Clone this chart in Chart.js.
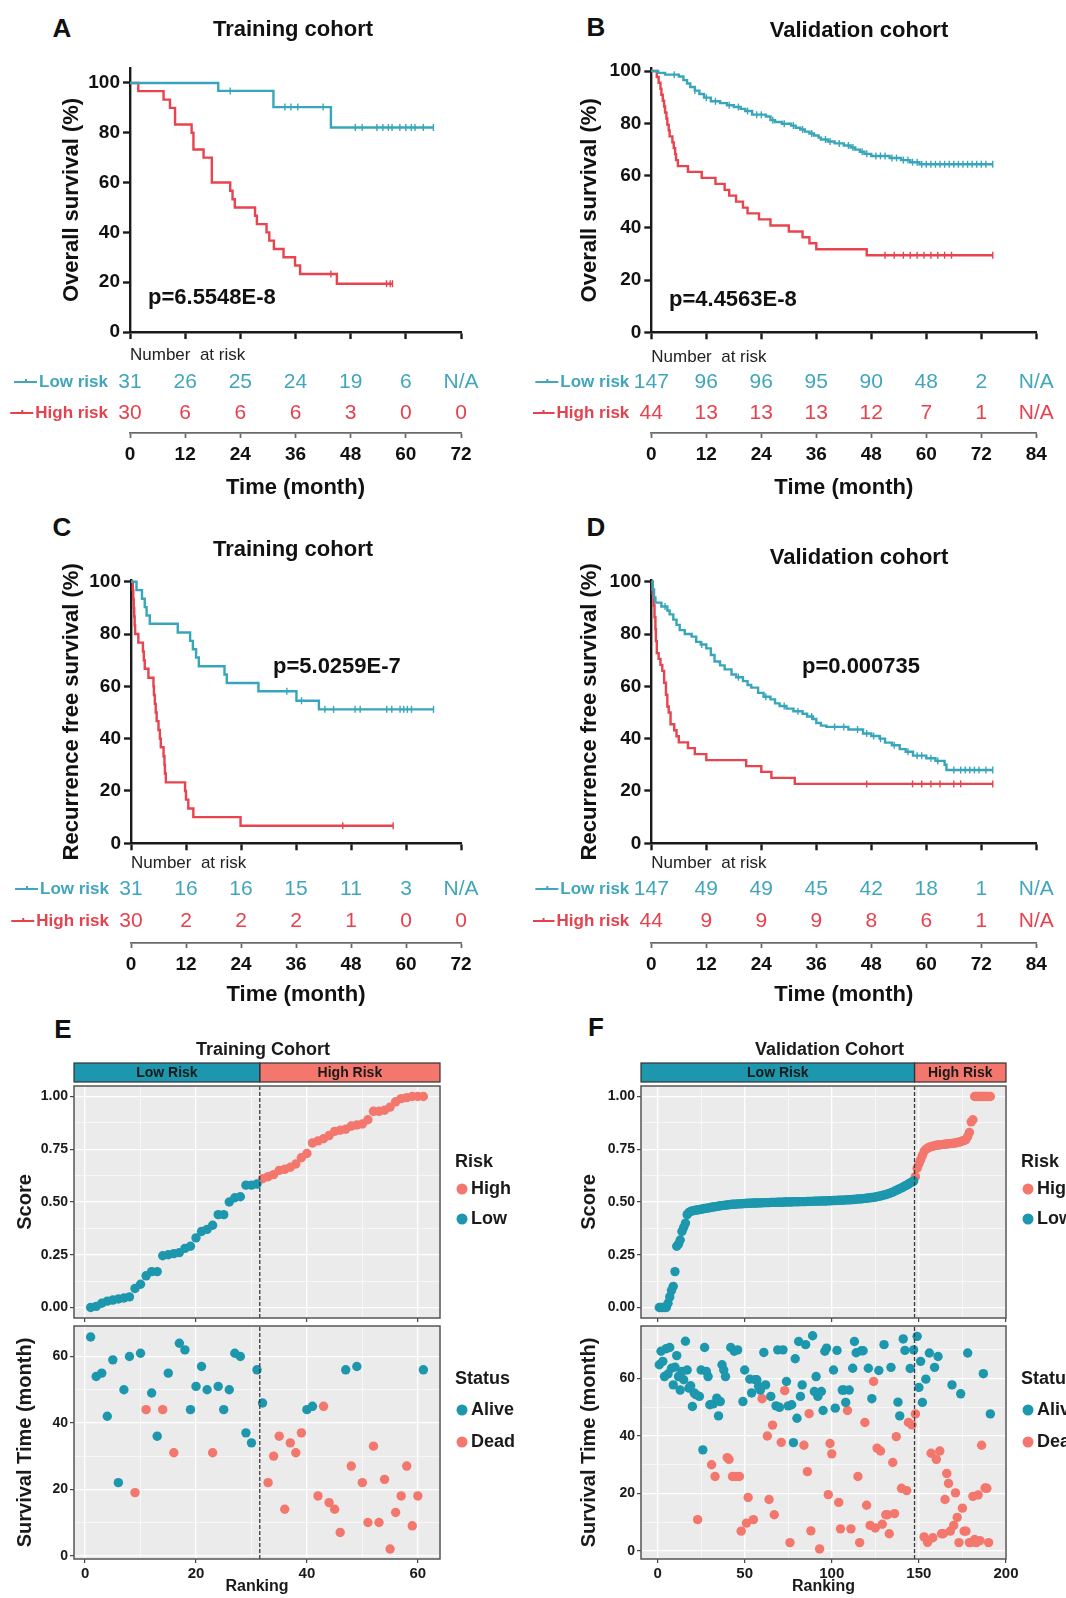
<!DOCTYPE html>
<html>
<head>
<meta charset="utf-8">
<script src="https://cdn.jsdelivr.net/npm/chart.js@4.4.1/dist/chart.umd.min.js"></script>
<style>
  body { margin: 0; background: #fff; }
  #wrap { position: relative; width: 1066px; height: 1598px; overflow: hidden; }
  canvas { position: absolute; }
  .lbl { position: absolute; font: bold 26px 'Liberation Sans', Arial, sans-serif; color: #111; transform: translate(-50%, -50%); }
</style>
</head>
<body>
<div id="wrap">
  <div class="lbl" style="left:62px;top:28px">A</div>
  <div class="lbl" style="left:596px;top:27px">B</div>
  <div class="lbl" style="left:62px;top:527px">C</div>
  <div class="lbl" style="left:596px;top:527px">D</div>
  <div class="lbl" style="left:63px;top:1029px">E</div>
  <div class="lbl" style="left:596px;top:1027px">F</div>
  <canvas id="kmA"></canvas>
  <canvas id="kmB"></canvas>
  <canvas id="kmC"></canvas>
  <canvas id="kmD"></canvas>
  <canvas id="scoreE"></canvas>
  <canvas id="timeE"></canvas>
  <canvas id="scoreF"></canvas>
  <canvas id="timeF"></canvas>
</div>
<script>
const FONT = "'Liberation Sans', Arial, sans-serif";
const TEAL = '#38a6ba', RED = '#e8434e';
const TEAL_TXT = '#41a6bd', RED_TXT = '#e6424e';
const GG_LOW = '#1c97ad', GG_HIGH = '#f3776c';

// ---------- Kaplan-Meier curves: [time (month), survival %] ----------
const osTrainLow = [[0,100],[19.2,96.8],[31.2,90.3],[43.7,82.1],[66,82.1]];
const osTrainLowCens = [21.8,33.7,35,36.5,42,49,50.5,53.7,55,56.2,57,58.7,60,61.2,62,63.8,66];
const osTrainHigh = [[0,100],[1.8,96.7],[7.3,93.3],[8.7,90],[9.8,83.3],[13.4,80],[13.8,73.3],[16,70],[17.8,60],
  [21.8,56.7],[22.3,53.3],[22.8,50],[27.2,46.7],[27.6,43.3],[29.7,40],[30.3,36.7],[31.3,33.3],[33.4,30],
  [35.9,26.7],[37,23.3],[45,19.4],[57.1,19.4]];
const osTrainHighCens = [43.7,55.8,56.6,57.1];

const osValLow = [[0,100],[1.5,99.3],[3,98.6],[6,97.9],[7,96.5],[7.8,95.2],[8.5,93.9],[9.5,92.5],[10.5,91.2],
  [11.5,89.8],[13,88.4],[15,87.7],[16.5,86.9],[18,86.2],[19.5,85.5],[20.5,84.7],[22,83.3],[25,82.6],[26,81.2],
  [27,80.5],[28.5,79.8],[30.5,79.1],[31.5,78.3],[32.5,77.6],[33.5,76.8],[34.5,76.1],[35.5,75.3],[36.5,74.5],
  [37,73.8],[38.5,73],[40,72.3],[42,71.5],[43.5,70.7],[44.5,69.9],[45.5,69.1],[46.5,68.3],[48,67.5],[52,66.7],
  [54.5,65.9],[56.5,65.1],[58.5,64.3],[74.5,64.3]];
const osValLowCens = [5,9.5,12,14,17,19,21,23,24,26.5,29,31,33,35,38,39,41,43,44,46,47,49,50,51,52.5,53.5,55,56,
  57,58,59,60,61,62,63,64,65,66,67,68,69,70,71,72,73,74.5];
const osValHigh = [[0,100],[1.2,97.7],[1.6,95.5],[2,93.2],[2.2,90.9],[2.5,88.6],[2.8,86.4],[3,84.1],[3.3,81.8],
  [3.5,79.5],[3.8,77.3],[4,75],[4.6,72.7],[4.9,70.5],[5.2,68.2],[5.4,65.9],[5.8,63.6],[8,61.4],[11,59.1],[14,56.8],
  [16,54.5],[17,52.3],[18.5,50],[20,47.7],[21,45.5],[23.5,43.2],[26,40.9],[30,38.6],[33,36.4],[34.5,34.1],
  [36,31.8],[47,29.5],[74.5,29.5]];
const osValHighCens = [51,53,55,56.5,58,59.5,61,62.5,64,65.5,74.5];

const rfsTrainLow = [[0,100],[1.2,96.8],[2.4,93.5],[3,90.3],[3.4,87.1],[4.1,83.9],[10.2,80.6],[12.9,77.4],
  [13.5,74.2],[14.2,71],[14.8,67.7],[20.4,64.5],[20.9,61.3],[27.8,58.1],[36.1,54.5],[41,51.2],[66,51.2]];
const rfsTrainLowCens = [34,37.2,42.3,44.2,48.9,50,55.8,56.9,58.7,59.5,60.3,61.2,66];
const rfsTrainHigh = [[0,100],[0.4,96.7],[0.5,93.3],[0.6,90],[0.7,86.7],[0.8,83.3],[0.9,80],[1.6,76.7],[2.6,73.3],
  [2.8,70],[3,66.7],[3.8,63.3],[4.9,60],[5,56.7],[5.2,53.3],[5.4,50],[5.6,46.7],[6,43.3],[6.3,40],[6.5,36.7],
  [7.1,33.3],[7.3,30],[7.4,26.7],[7.6,23.3],[11.8,20],[12,16.7],[12.5,13.3],[13.6,10],[23.9,6.7],[57.2,6.7]];
const rfsTrainHighCens = [46.2,57.2];

const rfsValLow = [[0,100],[0.3,97],[0.6,94],[0.9,92],[2.2,90.5],[3.5,89],[4,87.5],[4.8,85.5],[5.5,83.5],[6.2,81.5],
  [7.3,80],[8.8,79],[9.8,77],[10.8,76],[12,74.5],[13,72],[13.8,69.5],[15,68],[16,66.5],[17.5,64.5],[18.5,63.5],
  [20,62],[21,60.5],[21.8,59.5],[23.3,57.5],[24.5,56],[26,55],[27,53.5],[28,52.5],[29.5,51.5],[31,50.5],[33,49.5],
  [34,48.5],[35.3,47.5],[36,46],[37,45],[38.2,44.5],[43,43.5],[46.2,42],[48,41],[49.8,40],[51,38.5],[52.5,37.5],
  [54.2,36],[55.5,35],[57.1,33.5],[60,32.5],[62,31.5],[64,30],[64.4,28],[74.5,28]];
const rfsValLowCens = [3,11,19,25,29,32,35,40,42,45,47,48.5,50,53,56,58,59,61,62.5,66,67.5,68.5,69.5,70.5,71.5,73,74.5];
const rfsValHigh = [[0,100],[0.3,95.5],[0.5,90.9],[0.7,86.4],[0.9,81.8],[1,77.3],[1.2,72.7],[1.6,70.5],[2,68.2],
  [2.4,65.9],[2.8,61.4],[3.2,56.8],[3.5,52.3],[3.8,50],[4.2,45.5],[5,43.2],[5.5,40.9],[6,38.6],[8,36.4],[9.5,34.1],
  [12,31.8],[20.7,29.5],[24,27.3],[26.2,25],[31.3,22.7],[74.5,22.7]];
const rfsValHighCens = [47,57,59,61,63,66,67.5,74.5];

// ---------- numbers at risk ----------
const osTrainRiskLow = ['31','26','25','24','19','6','N/A'];
const osTrainRiskHigh = ['30','6','6','6','3','0','0'];
const osValRiskLow = ['147','96','96','95','90','48','2','N/A'];
const osValRiskHigh = ['44','13','13','13','12','7','1','N/A'];
const rfsTrainRiskLow = ['31','16','16','15','11','3','N/A'];
const rfsTrainRiskHigh = ['30','2','2','2','1','0','0'];
const rfsValRiskLow = ['147','49','49','45','42','18','1','N/A'];
const rfsValRiskHigh = ['44','9','9','9','8','6','1','N/A'];

const kmYTicks = [0,20,40,60,80,100];
const kmTicks72 = [0,12,24,36,48,60,72];
const kmTicks84 = [0,12,24,36,48,60,72,84];

// ---------- risk score plots ----------
const trainScore = [0,0.005,0.02,0.03,0.035,0.04,0.045,0.05,0.09,0.11,0.15,0.17,0.17,0.245,0.25,0.255,0.26,0.28,
  0.29,0.33,0.36,0.37,0.39,0.44,0.44,0.5,0.52,0.525,0.58,0.58,0.585,0.61,0.62,0.63,0.65,0.655,0.665,0.68,0.71,0.73,
  0.78,0.79,0.8,0.815,0.835,0.84,0.845,0.86,0.865,0.87,0.89,0.93,0.93,0.935,0.95,0.975,0.99,0.995,1,1,1];
const trainTime = [65.9,54,55,42,59,22,50,60,19,61,44,49,36,44,55,31,64,62,44,51,57,50,31,51,44,50,61,60,37,34,56,
  46,22,30,36,14,34,31,37,44,45,18,45,16,14,7,56,27,57,22,10,33,10,23,2,13,18,27,9,18,56];
const trainDead = [0,0,0,0,0,0,0,0,1,0,1,0,0,1,0,1,0,0,0,0,0,0,1,0,0,0,0,0,0,0,0,0,1,1,1,1,1,1,1,0,0,1,1,1,1,1,0,
  1,0,1,1,1,1,1,1,1,1,1,1,1,0];
const trainCut = 31.5;

const valScore = [0,0,0,0,0,0.02,0.05,0.08,0.1,0.17,0.29,0.3,0.32,0.36,0.38,0.4,0.44,0.45,0.455,0.458,
  0.46,0.461,0.463,0.464,0.466,0.467,0.469,0.47,0.472,0.473,0.475,0.476,0.478,0.479,0.48,0.482,0.483,0.484,0.485,0.486,
  0.487,0.488,0.489,0.489,0.49,0.491,0.491,0.492,0.492,0.493,0.493,0.494,0.494,0.494,0.495,0.495,0.495,0.496,0.496,0.496,
  0.497,0.497,0.497,0.497,0.498,0.498,0.498,0.498,0.499,0.499,0.499,0.499,0.5,0.5,0.5,0.5,0.5,0.501,0.501,0.501,
  0.501,0.502,0.502,0.502,0.502,0.503,0.503,0.503,0.503,0.504,0.504,0.504,0.504,0.505,0.505,0.505,0.505,0.506,0.506,0.506,
  0.507,0.507,0.507,0.508,0.508,0.509,0.509,0.51,0.51,0.511,0.511,0.512,0.512,0.513,0.514,0.514,0.515,0.516,0.517,0.518,
  0.519,0.52,0.521,0.522,0.524,0.525,0.527,0.529,0.531,0.533,0.535,0.538,0.541,0.544,0.547,0.551,0.555,0.559,0.563,0.567,
  0.571,0.576,0.58,0.585,0.59,0.595,0.6,
  0.62,0.66,0.68,0.7,0.72,0.74,0.75,0.755,0.76,0.762,0.765,0.767,0.769,0.77,0.771,0.772,0.773,0.774,0.775,0.776,
  0.777,0.778,0.779,0.78,0.782,0.784,0.786,0.789,0.792,0.796,0.81,0.83,0.88,0.89,1,1,1,1,1,1,1,1,1,1];
const valTime = [64.8,69.5,66,60.7,70.4,61.6,70.8,63.6,57.8,64,68,60.7,56,62.5,59.6,73,63,56.7,57.5,50.3,
  55,54.4,10.9,53.8,63,35.2,70.8,62.5,60.7,50.9,30,51.2,25.9,53.2,47,52,64.8,63,60.7,32.5,
  31.9,70.8,25.9,69.5,25.9,70,25.9,6.9,52,63,9.7,18.6,59.8,55,10.9,59.6,59.6,57.3,56,53,
  69.1,57.8,40,17.9,53.8,43.8,12.6,50.5,70,50,37.8,70,55.8,59,50.5,2.9,50.9,37.7,66.9,46.2,
  72.9,53.8,57.8,36.8,71.8,27.6,47.8,7,74.9,55.5,60.7,53.8,0.7,55.5,48.9,69.5,70.6,19.6,37.4,33.8,
  63,49.7,69.8,16.9,7.7,56,56,51.7,48.9,56,7.7,63.6,72.9,69,25.9,2.9,69.7,69.7,44.7,15.9,
  63.6,8.9,53,59,8,35.8,62.8,34.8,9.3,71.8,12.6,12.6,6,63.9,30.8,13,39.8,51.8,47,21.8,
  73.8,69.8,21,44.7,63.5,43.9,70,
  47.7,74.7,56.9,66,51.7,4.9,59.8,3,68.9,34,4.6,63.9,31.9,67.7,34.8,6,6,17.9,27,23.5,
  6.9,57.8,8.9,20.2,11.7,2.9,54.7,14.9,6.9,6.9,68.9,2.9,3,19,4,2.9,19.5,3.6,36.8,61.7,
  21.9,21.8,2.9,47.7];
const valDead = [0,0,0,0,0,0,0,0,0,0,0,0,0,0,0,0,0,0,0,0,
  0,0,1,0,0,0,0,0,0,0,1,0,1,0,0,0,0,0,0,1,
  1,0,1,0,1,0,1,1,0,0,1,1,0,0,1,0,0,0,0,1,
  0,0,1,1,0,1,1,0,0,0,1,0,1,0,0,1,0,0,0,0,
  0,0,0,1,0,1,1,1,0,0,0,0,1,0,0,0,0,1,1,1,
  0,0,0,1,1,0,0,0,1,0,1,0,0,0,1,1,0,0,1,1,
  0,1,0,1,1,1,0,1,1,0,1,1,1,0,1,1,1,0,0,1,
  0,0,1,1,0,1,0,
  1,0,0,0,0,1,0,1,0,1,1,0,1,0,1,1,1,1,1,1,
  1,0,1,1,1,1,0,1,1,1,0,1,1,1,1,1,1,1,1,0,
  1,1,1,0];
const valCut = 147.5;

function survAt(steps, t) {
  let s = steps[0][1];
  for (const p of steps) { if (p[0] <= t) s = p[1]; }
  return s;
}

function txt(ctx, s, x, y, font, color, align) {
  ctx.save();
  ctx.font = font;
  ctx.fillStyle = color;
  ctx.textAlign = align || 'left';
  ctx.textBaseline = 'middle';
  ctx.fillText(s, x, y);
  ctx.restore();
}

function place(id, left, top, w, h) {
  const cv = document.getElementById(id);
  cv.width = w; cv.height = h;
  cv.style.left = left + 'px'; cv.style.top = top + 'px';
  return cv;
}

// ---------- KM panel ----------
function drawKM(id, o) {
  const cv = place(id, o.left, o.top, o.w, o.h);
  const curve = (steps, color) => ({
    data: steps.map(p => ({ x: p[0], y: p[1] })),
    borderColor: color, borderWidth: 2.4, stepped: 'before', pointRadius: 0, fill: false, clip: false
  });
  const cens = (times, steps, color) => ({
    data: times.map(t => ({ x: t, y: survAt(steps, t) })),
    showLine: false, pointStyle: 'line', pointRotation: 90, pointRadius: 3.5,
    pointBorderColor: color, pointBorderWidth: 1.4, borderColor: color, clip: false
  });
  const fixTicks = vals => s => { s.ticks = vals.map(v => ({ value: v })); };

  const tablePlugin = {
    id: 'riskTable',
    afterDraw(chart) {
      const ctx = chart.ctx, xs = chart.scales.x, ca = chart.chartArea;
      txt(ctx, o.title, o.titleXY[0] - o.left, o.titleXY[1] - o.top, 'bold 22px ' + FONT, '#111', 'center');
      txt(ctx, o.p, o.pXY[0] - o.left, o.pXY[1] - o.top, 'bold 22px ' + FONT, '#111');
      txt(ctx, 'Number  at risk', ca.left, o.narY - o.top, '17px ' + FONT, '#222');
      const rows = [
        { name: 'Low risk', vals: o.riskLow, color: TEAL_TXT, y: o.rowY[0] },
        { name: 'High risk', vals: o.riskHigh, color: RED_TXT, y: o.rowY[1] }
      ];
      rows.forEach(r => {
        const y = r.y - o.top;
        const xr = ca.left - 22;
        ctx.font = 'bold 17px ' + FONT;
        const w = ctx.measureText(r.name).width;
        ctx.save();
        ctx.strokeStyle = r.color; ctx.lineWidth = 2;
        ctx.beginPath();
        ctx.moveTo(xr - w - 25, y); ctx.lineTo(xr - w - 2, y);
        const mid = xr - w - 13;
        ctx.moveTo(mid, y - 3); ctx.lineTo(mid, y + 1);
        ctx.stroke();
        ctx.restore();
        txt(ctx, r.name, xr, y, 'bold 17px ' + FONT, r.color, 'right');
        r.vals.forEach((v, i) => txt(ctx, v, xs.getPixelForValue(o.ticks[i]), y, '21px ' + FONT, r.color, 'center'));
      });
    }
  };

  new Chart(cv, {
    type: 'line',
    data: {
      datasets: [
        curve(o.low, TEAL), curve(o.high, RED),
        cens(o.lowCens, o.low, TEAL), cens(o.highCens, o.high, RED)
      ]
    },
    options: {
      responsive: false, animation: false, events: [],
      layout: { padding: { left: 0, top: o.padTop, right: o.padRight, bottom: 0 } },
      plugins: { legend: { display: false }, tooltip: { enabled: false } },
      scales: {
        x: {
          type: 'linear', position: 'bottom', min: 0, max: o.xmax, weight: 0,
          afterBuildTicks: fixTicks(o.ticks),
          ticks: { display: false },
          grid: { drawOnChartArea: false, drawTicks: true, tickLength: 7, tickWidth: 2.4, tickColor: '#1a1a1a' },
          border: { display: true, color: '#1a1a1a', width: 2.4 },
          afterFit: s => { s.height = o.tableH; }
        },
        x2: {
          type: 'linear', position: 'bottom', min: 0, max: o.xmax, weight: 1,
          afterBuildTicks: fixTicks(o.ticks),
          ticks: { font: { family: FONT, size: 19, weight: 'bold' }, color: '#111', padding: 5, autoSkip: false, maxRotation: 0 },
          grid: { drawOnChartArea: false, drawTicks: true, tickLength: 5, tickWidth: 1.8, tickColor: '#6a6a6a' },
          border: { display: true, color: '#6a6a6a', width: 1.8 },
          title: { display: true, text: 'Time (month)', color: '#111', font: { family: FONT, size: 22, weight: 'bold' }, padding: { top: 0, bottom: o.titlePad } },
          afterFit: s => { s.height = o.axis2H; }
        },
        y: {
          type: 'linear', min: 0, max: o.ymax,
          afterBuildTicks: fixTicks(kmYTicks),
          ticks: { font: { family: FONT, size: 19, weight: 'bold' }, color: '#111', padding: 3 },
          grid: { drawOnChartArea: false, drawTicks: true, tickLength: 7, tickWidth: 2.4, tickColor: '#1a1a1a' },
          border: { display: true, color: '#1a1a1a', width: 2.4 },
          title: { display: true, text: o.ytitle, color: '#111', font: { family: FONT, size: 22, weight: 'bold' }, padding: { top: o.ytitlePad, bottom: 0 } },
          afterFit: s => { s.width = o.yW; }
        }
      }
    },
    plugins: [tablePlugin]
  });
}

drawKM('kmA', { left: 0, top: 0, w: 533, h: 505, yW: 130, padRight: 72, padTop: 68, tableH: 101, axis2H: 72,
  titlePad: 3.8, ymax: 106, ytitlePad: 58.8, xmax: 72, ticks: kmTicks72, ytitle: 'Overall survival (%)',
  title: 'Training cohort', titleXY: [293, 30], p: 'p=6.5548E-8', pXY: [148, 298], narY: 355, rowY: [382, 413],
  low: osTrainLow, high: osTrainHigh, lowCens: osTrainLowCens, highCens: osTrainHighCens,
  riskLow: osTrainRiskLow, riskHigh: osTrainRiskHigh });

drawKM('kmB', { left: 533, top: 0, w: 533, h: 505, yW: 118.3, padRight: 29.7, padTop: 68.4, tableH: 100.7, axis2H: 72,
  titlePad: 3.8, ymax: 101, ytitlePad: 43.8, xmax: 84, ticks: kmTicks84, ytitle: 'Overall survival (%)',
  title: 'Validation cohort', titleXY: [859, 31], p: 'p=4.4563E-8', pXY: [669, 300], narY: 357, rowY: [382, 413],
  low: osValLow, high: osValHigh, lowCens: osValLowCens, highCens: osValHighCens,
  riskLow: osValRiskLow, riskHigh: osValRiskHigh });

drawKM('kmC', { left: 0, top: 500, w: 533, h: 515, yW: 131, padRight: 72, padTop: 80.4, tableH: 99.7, axis2H: 72,
  titlePad: 6.8, ymax: 100.5, ytitlePad: 58.8, xmax: 72, ticks: kmTicks72, ytitle: 'Recurrence free survival (%)',
  title: 'Training cohort', titleXY: [293, 550], p: 'p=5.0259E-7', pXY: [273, 667], narY: 863, rowY: [889, 921],
  low: rfsTrainLow, high: rfsTrainHigh, lowCens: rfsTrainLowCens, highCens: rfsTrainHighCens,
  riskLow: rfsTrainRiskLow, riskHigh: rfsTrainRiskHigh });

drawKM('kmD', { left: 533, top: 500, w: 533, h: 515, yW: 118.3, padRight: 29.7, padTop: 80.4, tableH: 99.7, axis2H: 72,
  titlePad: 6.8, ymax: 100.5, ytitlePad: 43.8, xmax: 84, ticks: kmTicks84, ytitle: 'Recurrence free survival (%)',
  title: 'Validation cohort', titleXY: [859, 558], p: 'p=0.000735', pXY: [802, 667], narY: 863, rowY: [889, 921],
  low: rfsValLow, high: rfsValHigh, lowCens: rfsValLowCens, highCens: rfsValHighCens,
  riskLow: rfsValRiskLow, riskHigh: rfsValRiskHigh });

// ---------- ggplot-like risk panels ----------
function ggAxis(vals, majors, fmt, opts) {
  const isMajor = c => c.tick && majors.includes(c.tick.value);
  return Object.assign({
    type: 'linear',
    afterBuildTicks: s => { s.ticks = vals.map(v => ({ value: v })); },
    ticks: {
      callback: v => majors.includes(v) ? fmt(v) : '',
      font: { family: FONT, size: 14, weight: 'bold' }, color: '#1a1a1a', padding: 2, autoSkip: false, maxRotation: 0
    },
    grid: {
      color: '#ffffff', lineWidth: c => isMajor(c) ? 1.3 : 0.6,
      drawTicks: true, tickLength: 4, tickWidth: 1.1,
      tickColor: c => isMajor(c) ? '#333333' : 'rgba(0,0,0,0)'
    },
    border: { display: false }
  }, opts || {});
}

function ggPanel(id, o) {
  const cv = place(id, o.left, o.top, o.w, o.h);
  const n = o.y.length;
  const pts = [];
  for (let i = 0; i < n; i++) pts.push({ x: i + 1, y: o.y[i], g: o.group[i] });
  const ds = (g, color) => ({
    data: pts.filter(p => p.g === g), backgroundColor: color, borderWidth: 0,
    pointRadius: 4.7, pointHoverRadius: 4.7, order: 1
  });
  const panelPlugin = {
    id: 'ggPanel',
    beforeDraw(chart) {
      const { ctx, chartArea: a } = chart;
      ctx.save(); ctx.fillStyle = '#ebebeb';
      ctx.fillRect(a.left, a.top, a.right - a.left, a.bottom - a.top);
      ctx.restore();
    },
    afterDraw(chart) {
      const { ctx, chartArea: a } = chart;
      ctx.save(); ctx.strokeStyle = '#555'; ctx.lineWidth = 1.5;
      ctx.strokeRect(a.left, a.top, a.right - a.left, a.bottom - a.top);
      ctx.restore();
      if (o.header) {
        const xc = chart.scales.x.getPixelForValue(o.cut);
        const y0 = o.header.y0 - o.top, y1 = o.header.y1 - o.top;
        ctx.save();
        ctx.fillStyle = GG_LOW; ctx.fillRect(a.left, y0, xc - a.left, y1 - y0);
        ctx.fillStyle = GG_HIGH; ctx.fillRect(xc, y0, a.right - xc, y1 - y0);
        ctx.strokeStyle = '#333'; ctx.lineWidth = 1.2;
        ctx.strokeRect(a.left, y0, xc - a.left, y1 - y0);
        ctx.strokeRect(xc, y0, a.right - xc, y1 - y0);
        ctx.restore();
        const ym = (y0 + y1) / 2 + 0.5;
        txt(ctx, 'Low Risk', (a.left + xc) / 2, ym, 'bold 14px ' + FONT, '#1a1a1a', 'center');
        txt(ctx, 'High Risk', (xc + a.right) / 2, ym, 'bold 14px ' + FONT, '#1a1a1a', 'center');
        txt(ctx, o.header.title, (a.left + a.right) / 2 + 6, o.header.ty - o.top, 'bold 18px ' + FONT, '#1a1a1a', 'center');
      }
      const lg = o.legend;
      txt(ctx, lg.title, a.right + 15, lg.ty - o.top, 'bold 18px ' + FONT, '#1a1a1a');
      lg.items.forEach(it => {
        const y = it.y - o.top;
        ctx.save(); ctx.fillStyle = it.color;
        ctx.beginPath(); ctx.arc(a.right + 22, y, 5.5, 0, Math.PI * 2); ctx.fill();
        ctx.restore();
        txt(ctx, it.text, a.right + 31, y, 'bold 18px ' + FONT, '#1a1a1a');
      });
    }
  };
  const xAxis = ggAxis(o.xTicks, o.xMajors, v => String(v), {
    min: o.xmin, max: o.xmax,
    afterFit: s => { s.height = o.xH; }
  });
  xAxis.ticks.display = o.xLabels;
  xAxis.ticks.font = { family: FONT, size: 15, weight: 'bold' };
  if (o.xLabels) {
    xAxis.title = { display: true, text: 'Ranking', color: '#1a1a1a', font: { family: FONT, size: 16, weight: 'bold' }, padding: { top: 0, bottom: o.xTitlePad } };
  }
  const yAxis = ggAxis(o.yTicks, o.yMajors, o.yFmt, {
    min: o.ymin, max: o.ymax,
    title: { display: true, text: o.ytitle, color: '#1a1a1a', font: { family: FONT, size: 20, weight: 'bold' }, padding: { top: o.yTitlePad, bottom: 0 } },
    afterFit: s => { s.width = o.yW; }
  });
  new Chart(cv, {
    type: 'scatter',
    data: {
      datasets: [
        ds(o.groups[0], o.colors[0]), ds(o.groups[1], o.colors[1]),
        { data: [{ x: o.cut, y: o.ymin }, { x: o.cut, y: o.ymax }], showLine: true, borderDash: [4, 2],
          borderColor: '#3a3a3a', borderWidth: 1.3, pointRadius: 0, order: -1 }
      ]
    },
    options: {
      responsive: false, animation: false, events: [],
      layout: { padding: { left: 0, top: o.padTop, right: o.w - o.right, bottom: o.padBottom } },
      plugins: { legend: { display: false }, tooltip: { enabled: false } },
      scales: { x: xAxis, y: yAxis }
    },
    plugins: [panelPlugin]
  });
}

const scoreTicks = [0, 0.125, 0.25, 0.375, 0.5, 0.625, 0.75, 0.875, 1];
const scoreMajors = [0, 0.25, 0.5, 0.75, 1];
const trainXTicks = [0, 10, 20, 30, 40, 50, 60];
const trainXMajors = [0, 20, 40, 60];
const valXTicks = [0, 25, 50, 75, 100, 125, 150, 175, 200];
const valXMajors = [0, 50, 100, 150, 200];
const trainYTicks = [0, 10, 20, 30, 40, 50, 60];
const valYTicks = [0, 10, 20, 30, 40, 50, 60, 70];
const timeMajors = [0, 20, 40, 60];

const riskGroup = (scores, cut) => scores.map((s, i) => (i + 1) > cut ? 'High' : 'Low');
const statusGroup = dead => dead.map(d => d ? 'Dead' : 'Alive');

// E: training cohort
ggPanel('scoreE', { left: 0, top: 1030, w: 533, h: 300, right: 440, padTop: 56, padBottom: 8, xH: 4, yW: 74,
  xmin: -2, xmax: 64, ymin: -0.05, ymax: 1.05, xTicks: trainXTicks, xMajors: trainXMajors, xLabels: false,
  yTicks: scoreTicks, yMajors: scoreMajors, yFmt: v => v.toFixed(2), ytitle: 'Score', yTitlePad: 13.5,
  y: trainScore, group: riskGroup(trainScore, trainCut), groups: ['Low', 'High'], colors: [GG_LOW, GG_HIGH], cut: trainCut,
  header: { y0: 1063, y1: 1082, ty: 1050, title: 'Training Cohort' },
  legend: { title: 'Risk', ty: 1162, items: [{ text: 'High', color: GG_HIGH, y: 1189 }, { text: 'Low', color: GG_LOW, y: 1219 }] } });

ggPanel('timeE', { left: 0, top: 1300, w: 533, h: 298, right: 440, padTop: 26, padBottom: 0, xH: 39, xTitlePad: 1.4, yW: 74,
  xmin: -2, xmax: 64, ymin: -1, ymax: 69.2, xTicks: trainXTicks, xMajors: trainXMajors, xLabels: true,
  yTicks: trainYTicks, yMajors: timeMajors, yFmt: v => String(v), ytitle: 'Survival Time (month)', yTitlePad: 13.5,
  y: trainTime, group: statusGroup(trainDead), groups: ['Alive', 'Dead'], colors: [GG_LOW, GG_HIGH], cut: trainCut,
  legend: { title: 'Status', ty: 1379, items: [{ text: 'Alive', color: GG_LOW, y: 1410 }, { text: 'Dead', color: GG_HIGH, y: 1442 }] } });

// F: validation cohort
ggPanel('scoreF', { left: 533, top: 1030, w: 533, h: 300, right: 473, padTop: 56, padBottom: 8, xH: 4, yW: 108,
  xmin: -9.5, xmax: 200, ymin: -0.05, ymax: 1.05, xTicks: valXTicks, xMajors: valXMajors, xLabels: false,
  yTicks: scoreTicks, yMajors: scoreMajors, yFmt: v => v.toFixed(2), ytitle: 'Score', yTitlePad: 44,
  y: valScore, group: riskGroup(valScore, valCut), groups: ['Low', 'High'], colors: [GG_LOW, GG_HIGH], cut: valCut,
  header: { y0: 1063, y1: 1082, ty: 1050, title: 'Validation Cohort' },
  legend: { title: 'Risk', ty: 1162, items: [{ text: 'High', color: GG_HIGH, y: 1189 }, { text: 'Low', color: GG_LOW, y: 1219 }] } });

ggPanel('timeF', { left: 533, top: 1300, w: 533, h: 298, right: 473, padTop: 26, padBottom: 0, xH: 39, xTitlePad: 1.4, yW: 108,
  xmin: -9.5, xmax: 200, ymin: -2.8, ymax: 78.3, xTicks: valXTicks, xMajors: valXMajors, xLabels: true,
  yTicks: valYTicks, yMajors: timeMajors, yFmt: v => String(v), ytitle: 'Survival Time (month)', yTitlePad: 44,
  y: valTime, group: statusGroup(valDead), groups: ['Alive', 'Dead'], colors: [GG_LOW, GG_HIGH], cut: valCut,
  legend: { title: 'Status', ty: 1379, items: [{ text: 'Alive', color: GG_LOW, y: 1410 }, { text: 'Dead', color: GG_HIGH, y: 1442 }] } });
</script>
</body>
</html>
